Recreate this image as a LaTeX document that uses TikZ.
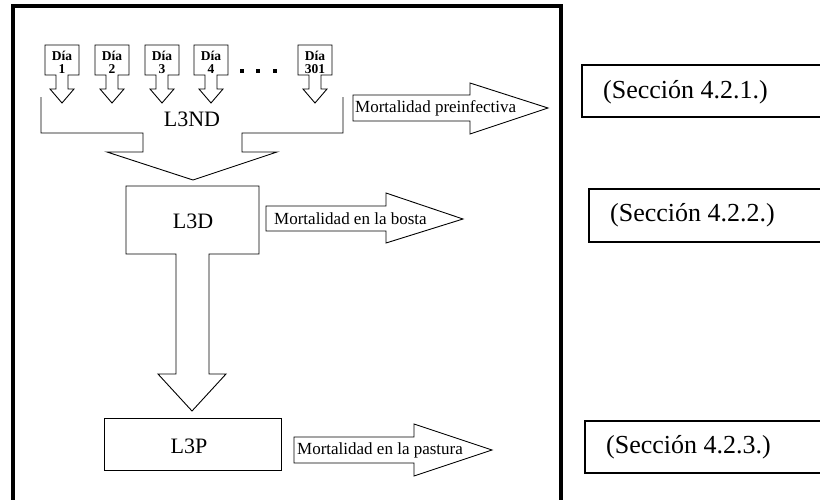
\documentclass[tikz,border=0pt]{standalone}
\usepackage{fontspec}
\setmainfont{Liberation Serif}
\tikzset{
  shp/.style={draw=black, line width=0.9pt, line join=miter},
  daytxt/.style={font=\bfseries\fontsize{13.5}{13}\selectfont, align=center, inner sep=0pt},
  bigtxt/.style={font=\fontsize{22}{24}\selectfont, inner sep=0pt},
  morttxt/.style={font=\fontsize{17}{19}\selectfont, inner sep=0pt, anchor=west},
  sectxt/.style={font=\fontsize{26}{28}\selectfont, inner sep=0pt, anchor=west},
  secbox/.style={draw=black, line width=1.6pt},
}
\newcommand\mydayarrow[3]{%
  \draw[shp] ({#1-17},45) -- ({#1+17},45) -- ({#1+17},75) -- ({#1+6},75) -- ({#1+6},89)
    -- ({#1+12},89) -- (#1,103) -- ({#1-12},89) -- ({#1-6},89) -- ({#1-6},75)
    -- ({#1-17},75) -- cycle;
  \node[daytxt] (#3) at (#1,62) {Día\\#2};
}
\begin{document}
\begin{tikzpicture}[x=1pt,y=-1pt]
\useasboundingbox (0,0) rectangle (820,499);
\clip (0,0) rectangle (820,499);
% outer frame
\draw[line width=4pt] (13,520) -- (13,5.5) -- (561,5.5) -- (561,520);
% day arrows
\mydayarrow{62}{1}{d1}
\mydayarrow{112}{2}{d2}
\mydayarrow{162}{3}{d3}
\mydayarrow{211}{4}{d4}
\mydayarrow{315}{301}{d301}
\foreach \xx in {242,258,275} \fill (\xx-2,69) rectangle (\xx+2,73);
% L3ND bracket arrow
\draw[shp] (41,97) -- (41,133) -- (143,133) -- (143,152) -- (107,152) -- (193,180)
  -- (277,152) -- (242,152) -- (242,133) -- (343,133) -- (343,97);
\node[bigtxt] (l3nd) at (192,119) {L3ND};
% mortalidad preinfectiva
\draw[shp] (353,95) -- (470,95) -- (470,83) -- (548,108) -- (470,134) -- (470,121) -- (353,121) -- cycle;
\node[morttxt] (m1) at (355,108) {Mortalidad preinfectiva};
% L3D box with shaft
\draw[shp] (126,186) -- (259,186) -- (259,254) -- (209,254) -- (209,374) -- (226,374)
  -- (192,411) -- (158,374) -- (176,374) -- (176,254) -- (126,254) -- cycle;
\node[bigtxt] (l3d) at (193,221) {L3D};
% mortalidad en la bosta
\draw[shp] (266,206) -- (386,206) -- (386,193) -- (463,219) -- (386,243) -- (386,231) -- (266,231) -- cycle;
\node[morttxt] (m2) at (274,219) {Mortalidad en la bosta};
% L3P box
\draw[shp] (104,418) rectangle (281,470);
\node[bigtxt] (l3p) at (189,446) {L3P};
% mortalidad en la pastura
\draw[shp] (294,437) -- (414,437) -- (414,424) -- (492,450) -- (414,476) -- (414,463) -- (294,463) -- cycle;
\node[morttxt] (m3) at (297,450) {Mortalidad en la pastura};
% section boxes
\draw[secbox] (830,65) -- (582,65) -- (582,117) -- (830,117);
\node[sectxt] (s1) at (603,92) {(Sección 4.2.1.)};
\draw[secbox] (830,189) -- (589,189) -- (589,242) -- (830,242);
\node[sectxt] (s2) at (610,215) {(Sección 4.2.2.)};
\draw[secbox] (830,421) -- (585,421) -- (585,473) -- (830,473);
\node[sectxt] (s3) at (606,447) {(Sección 4.2.3.)};
\end{tikzpicture}
\end{document}
